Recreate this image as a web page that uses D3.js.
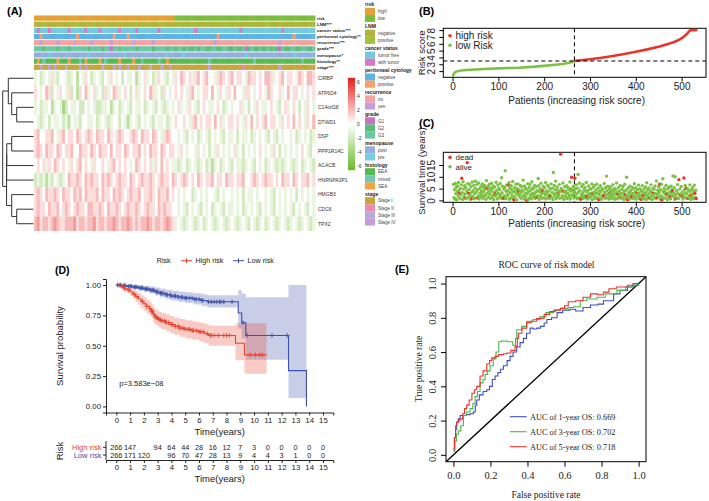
<!DOCTYPE html>
<html>
<head>
<meta charset="utf-8">
<script src="https://cdn.jsdelivr.net/npm/d3@7"></script>
<style>
  body { margin: 0; background: #fff; }
  svg { display: block; background: #fff; }
</style>
</head>
<body>
<svg width="709" height="501"></svg>
<script>
// ---------------- data ----------------
// (A) heatmap: genes, expression rows (a=-6 ... g=0 ... m=6), 100 column bins per row
const genes = ['CIRBP', 'ATP6D4', 'C14orf28', 'DTWD1', 'DSP', 'PPP1R14C', 'ACACB', 'HNRNPA3P1', 'HMGB3', 'CDC6', 'TPX2'];
const exprRows = [
  ['fgefgfhfeg','gfefgdgfhg','efgfegfhgf','gegffgdfgh','fgefhgfegf','hgihghfhig','higgfhihgh','ighhgfihhg','hgiihfghig','hhgfihgiih'],
  ['hgfgihegfh','gfhegdhgif','ghfgehfgih','fghgeghfgh','gihfgehgfg','hghgfhigfg','hhgigfhgfh','giggfhhgfg','hgfihgghfg','ighhgfghgh'],
  ['fgeffgdfgf','cegffgeegf','gfeeffgdfg','efgfegffge','fgfegfefgf','ghfgfhgfeg','hgffghgefg','fgghfgegfh','gffghgfegh','fghgegfhgf'],
  ['gfefgegffg','efdgffeggf','fgefgfefgg','egfdfgfegf','gfegffgefg','hgghgfhigh','ghhgighfgh','hghgfhgigh','ghighhgfhg','hgighgfhgi'],
  ['higghhigfh','ighhgihghi','hgihhgihgh','ihgghihgih','hgihgfhihg','gfgfegfgef','gfegfgfegf','fgegffgefg','fgfegfegfg','gfgefgfgef'],
  ['hihgihhgih','ghhiggihhg','ihgihhgigh','hgihghhigh','gihhgihghh','gfhgfggfhg','fgegfhgfgf','ghfgegfgfg','hgfgfhgegf','gfgfghgfeg'],
  ['ghghfhgihg','hgfhghighg','fhgghgfhig','hghgfgihgh','ghfhgighgf','fefgefgfef','gefdfgefgf','egffefgfeg','fgefgfefef','gfefgefgfe'],
  ['efefdfegfe','fgihhihgih','ihhgihihgh','ihhgihghih','hihghihhgi','hghihghgih','ghhighhgih','hghhigghih','ghihhghgih','hgihghhigh'],
  ['hihgihhihg','ihhgihigih','hhigihhgih','ihghihhigh','hihgihhigh','gfgfggefgf','gfggfegfgg','fgfgegffgf','ggfgfegfgf','gfgegfgfgf'],
  ['hihhgihhig','hihghihhgi','ihhihgihhi','hghihhihgh','ihhgihihhg','gfgfegfgfe','gfgefgfegf','fgfgefgfgf','egfgfegfgf','gfegfgfegf'],
  ['ijhiihijih','hiiijhiihi','ijhiihiiji','hiijihihii','jihiihijih','fgfefgfefg','efgfefgfef','gfefgfegfe','fgefgfefgf','efgfefgfef']
];
// annotation tracks, 100 column bins
const annLabels = ['risk', 'LNM***', 'cancer status***', 'peritoneal cytology**', 'recurrence***', 'grade***', 'menopause*', 'histology**', 'stage***'];
const annRisk   = ['hhhhhhhhhh','hhhhhhhhhh','hhhhhhhhhh','hhhhhhhhhh','hhhhhhhhhh','llllllllll','llllllllll','llllllllll','llllllllll','llllllllll'];
const annLNM    = ['nnnpnnnnnn','nnnnnpnnnn','npnnnnnnnn','nnnnnnpnnn','nnnnpnnnnn','nnnnnnnnnn','nnnnnnnnpn','nnnnnnnnnn','nnnpnnnnnn','nnnnnnnnnn'];
const annCancer = ['fwfffwffff','ffwfffffwf','fffwffffff','wfffffwfff','ffffwfffff','fffffffwff','ffffffffff','fffwffffff','ffffffffwf','ffffffffff'];
const annPerit  = ['nnpnnnnnnn','nnnnnpnnnn','nnnnnnnnpn','nnnpnnnnnn','nnnnnnnnnn','nnnnnnnnnn','nnnnnpnnnn','nnnnnnnnnn','nnnnnnnnnn','nnpnnnnnnn'];
const annRecur  = ['nnynnnnnyn','nnnnynnnnn','ynnnnnnynn','nnnnnynnnn','nnynnnnnnn','nnnnnnnnnn','nnnnynnnnn','nnnnnnnnnn','nnnnnnnynn','nnnnnnnnnn'];
const annGrade  = ['3332333323','3323333332','3333233133','2333332333','3323333233','2332322323','3223322332','2322312322','3223232132','2332233223'];
const annMeno   = ['oooooroooo','ooooooooor','oooooooooo','oorooooooo','oooooooroo','oooroooooo','oooooooooo','ooooooroooo','oooooooooo','oorooooooo'];
const annHist   = ['esemeeeese','eeseeemese','eeesemeeee','seeeeseeme','eeeemeesee','eeeeeeeeee','eemeeeeeee','eeeeeeeeme','eeeeeeeeee','eeeeemeeee'];
const annStage  = ['1131141311','1311113141','1111311131','3114111311','1311131141','1111111111','1131111111','1111211111','1111111311','1111111111'];
const legendTitles = ['risk', 'LNM', 'cancer status', 'peritoneal cytology', 'recurrence', 'grade', 'menopause', 'histology', 'stage'];
const legendItems = [
  ['high', 'low'], ['negative', 'positive'], ['tumor free', 'with tumor'], ['negative', 'positive'],
  ['no', 'yes'], ['G1', 'G2', 'G3'], ['post', 'pre'], ['EEA', 'mixed', 'SEA'],
  ['Stage I', 'Stage II', 'Stage III', 'Stage IV']
];
const heatTicks = [6, 4, 2, 0, -2, -4, -6];

// (B) risk score curve
const lowIdx  = [1, 3, 5, 8, 15, 30, 50, 70, 100, 145, 180, 218, 240, 255, 262, 266];
const lowVal  = [1.36, 1.62, 1.8, 1.93, 2.05, 2.16, 2.24, 2.31, 2.4, 2.5, 2.66, 2.9, 3.05, 3.23, 3.36, 3.46];
const highIdx = [267, 280, 300, 325, 350, 375, 400, 425, 450, 470, 485, 495, 502, 508, 512, 516, 519, 522, 526, 532];
const highVal = [3.5, 3.6, 3.73, 3.95, 4.21, 4.5, 4.84, 5.18, 5.57, 5.95, 6.3, 6.6, 6.9, 7.2, 7.5, 7.8, 7.98, 8.0, 8.0, 8.0];
const riskCut = 3.48, cutPatient = 266;

// (C) survival status [patient index, years]
const alivePts = [[2,6.8],[3,1.2],[4,4.5],[5,0.6],[6,7.2],[7,2.9],[8,5.6],[9,0.3],[10,3.8],[11,6.1],[12,1.9],[13,7.6],[14,4.2],[16,0.9],[17,5.1],[18,2.4],[19,6.6],[21,3.3],[22,0.5],[23,7.9],[24,4.8],[25,1.6],[26,6.2],[27,2.7],[29,5.4],[30,0.8],[31,3.9],[33,7.1],[34,1.3],[36,4.6],[37,6.9],[38,2.2],[39,0.4],[40,5.8],[41,3.4],[43,7.8],[44,1.7],[45,4.1],[46,6.4],[47,0.7],[48,2.9],[49,5.2],[50,8.1],[51,1.1],[52,3.6],[53,6.7],[54,4.4],[56,2.0],[57,7.4],[58,0.6],[59,5.0],[60,3.1],[61,1.5],[62,6.0],[63,4.0],[64,2.5],[65,7.0],[66,0.9],[67,5.5],[68,3.7],[69,1.8],[70,6.3],[71,4.7],[72,2.3],[73,0.5],[74,8.4],[76,3.2],[77,5.9],[78,1.4],[79,4.3],[80,6.8],[81,2.6],[82,0.8],[83,5.3],[84,3.8],[85,7.3],[86,1.2],[87,4.9],[88,2.1],[89,6.1],[90,0.4],[91,3.5],[92,5.7],[94,1.9],[95,7.7],[96,4.2],[97,2.8],[98,0.6],[99,6.5],[100,3.0],[101,5.1],[102,1.6],[103,4.5],[104,7.2],[105,2.4],[106,0.9],[107,9.6],[108,3.3],[109,6.0],[110,1.3],[112,4.8],[113,2.0],[114,5.6],[115,12.6],[116,0.7],[117,3.9],[118,6.6],[119,1.8],[120,4.1],[121,2.6],[123,7.5],[124,0.5],[125,5.2],[126,3.4],[127,1.1],[128,6.2],[129,4.6],[130,2.2],[131,8.0],[132,0.8],[133,3.7],[135,5.4],[136,1.5],[137,4.0],[138,6.9],[139,2.7],[140,0.3],[141,5.0],[142,3.1],[143,7.0],[145,1.9],[146,4.4],[147,2.5],[148,6.3],[149,0.9],[150,3.6],[151,5.8],[152,1.3],[153,4.2],[154,8.6],[155,2.1],[156,0.6],[157,6.1],[158,3.2],[159,5.1],[160,1.7],[161,4.7],[163,2.9],[164,7.1],[165,0.4],[166,3.8],[167,5.5],[168,1.2],[169,6.8],[170,2.3],[171,4.3],[172,0.7],[173,7.9],[174,3.0],[175,5.3],[176,1.6],[177,4.9],[178,2.6],[179,6.4],[180,0.8],[181,3.5],[182,5.9],[183,1.4],[185,4.1],[186,2.0],[187,9.3],[188,6.2],[189,0.5],[190,3.7],[191,5.0],[192,1.8],[193,7.3],[194,2.8],[195,4.6],[196,0.9],[198,6.0],[199,3.3],[200,1.1],[201,5.4],[202,2.4],[203,7.6],[204,0.6],[205,4.0],[206,2.9],[207,6.5],[208,1.5],[209,3.9],[210,5.7],[211,0.8],[212,2.2],[214,4.8],[215,7.0],[216,1.3],[217,3.4],[218,5.2],[219,0.4],[220,11.8],[221,2.7],[222,6.3],[223,1.9],[224,4.4],[225,8.2],[226,0.7],[227,3.1],[228,5.6],[229,1.6],[230,4.2],[232,2.5],[233,6.7],[234,0.9],[235,3.8],[237,5.1],[238,1.2],[239,4.5],[240,2.0],[241,7.4],[243,0.5],[244,3.6],[245,5.8],[246,1.7],[247,4.0],[248,2.8],[249,6.2],[250,0.8],[251,3.2],[252,5.5],[253,1.4],[254,4.7],[255,2.3],[256,7.8],[257,0.6],[258,3.9],[259,5.0],[261,1.9],[262,4.3],[263,2.6],[264,6.0],[265,1.0],[266,3.5],
  [268,4.9],[269,1.5],[270,6.6],[271,2.8],[272,0.7],[273,5.2],[274,11.0],[275,3.6],[276,1.2],[277,7.3],[278,4.1],[279,0.5],[281,2.4],[282,5.9],[283,1.8],[284,3.3],[285,6.8],[286,0.9],[287,4.5],[288,2.1],[289,5.5],[290,1.3],[291,3.8],[292,7.6],[294,0.6],[295,4.2],[296,2.6],[297,6.1],[298,1.0],[299,3.0],[300,5.0],[301,1.6],[302,4.7],[303,2.2],[304,7.0],[305,0.4],[307,5.6],[308,1.9],[309,3.5],[310,6.4],[311,0.8],[312,2.9],[313,4.4],[314,1.4],[315,6.9],[316,3.2],[317,0.7],[318,5.3],[320,2.5],[321,4.0],[322,1.1],[323,6.2],[324,3.7],[325,0.5],[326,5.0],[327,2.0],[328,4.6],[329,1.7],[331,7.2],[332,3.4],[333,0.9],[334,5.4],[335,2.3],[336,10.3],[337,4.1],[338,1.2],[339,6.0],[340,2.8],[341,0.6],[342,4.8],[343,1.8],[345,5.8],[346,3.0],[347,0.8],[348,4.3],[349,2.1],[350,6.7],[351,1.4],[352,3.6],[353,5.1],[354,0.5],[355,2.6],[356,4.5],[357,1.0],[358,7.4],[359,3.3],[360,0.7],[362,5.5],[363,1.9],[364,4.0],[365,2.4],[366,6.3],[368,3.1],[369,0.9],[370,4.7],[371,1.5],[372,5.9],[373,2.9],[374,0.4],[375,3.9],[376,6.9],[378,1.2],[379,4.4],[380,9.8],[381,2.2],[383,5.2],[384,1.6],[385,3.5],[386,0.6],[387,6.0],[388,2.7],[389,4.2],[390,1.1],[392,5.6],[393,3.0],[394,0.8],[395,4.9],[396,2.0],[397,7.1],[398,1.4],[399,3.7],[400,5.4],[401,0.5],[403,2.5],[404,4.6],[405,1.8],[406,6.5],[407,3.2],[408,0.9],[409,5.0],[410,2.3],[412,4.1],[413,1.3],[414,6.2],[415,3.6],[416,0.6],[418,4.8],[419,2.8],[420,1.0],[421,5.7],[422,3.4],[423,0.4],[424,7.5],[425,2.1],[426,4.4],[427,1.5],[428,5.3],[429,2.9],[431,0.7],[432,4.0],[433,6.6],[434,1.9],[435,3.3],[436,0.5],[437,5.1],[439,2.4],[440,4.7],[441,1.2],[442,6.1],[443,3.0],[444,0.8],[445,8.2],[447,2.6],[448,4.3],[449,1.6],[450,5.8],[451,3.5],[453,0.6],[454,4.5],[455,2.0],[456,6.9],[458,1.3],[459,9.2],[460,3.8],[461,0.9],[462,5.2],[463,2.7],[464,4.0],[465,1.1],[466,6.4],[467,3.1],[469,0.4],[470,4.9],[471,2.2],[472,5.6],[473,1.5],[474,3.6],[476,0.7],[477,6.0],[478,2.9],[479,4.6],[481,10.4],[482,1.8],[483,3.3],[484,5.4],[485,0.5],[486,10.0],[487,2.5],[489,4.2],[490,1.2],[491,6.7],[492,3.0],[493,0.8],[496,4.8],[498,1.7],[499,5.9],[501,3.5],[503,0.6],[504,2.3],[506,4.4],[507,1.4],[508,6.3],[509,3.2],[511,0.9],[512,2.7],[513,5.0],[515,4.1],[516,1.0],[517,2.0],[518,6.6],[519,3.7],[520,0.5],[522,4.7],[523,1.6],[524,5.5],[525,2.8],[526,0.7],[527,3.9],[528,6.5],[530,1.3],[531,4.3]];
const deadPts = [[15,3.0],[20,9.4],[28,1.0],[32,16.0],[35,3.0],[42,0.9],[55,1.0],[75,5.4],[93,2.7],[111,0.9],[122,6.5],[134,0.2],[144,4.0],[162,0.1],[184,1.5],[197,3.9],[213,1.8],[231,2.8],[236,19.6],[242,3.8],[260,9.8],[267,9.4],[280,0.6],[293,1.7],[306,3.1],[319,0.35],[330,2.1],[344,3.3],[361,2.5],[367,1.1],[377,2.3],[382,0.3],[391,1.6],[402,3.1],[411,0.5],[417,2.2],[430,0.9],[438,3.1],[446,1.2],[452,6.9],[457,0.2],[468,2.5],[475,1.6],[480,4.0],[488,0.9],[494,8.8],[497,2.2],[502,1.9],[505,9.5],[510,5.2],[514,0.9],[521,2.1],[529,3.0],[532,0.8]];

// (D) Kaplan-Meier
const highT  = [0, 0.25, 0.45, 0.6, 0.8, 1.0, 1.2, 1.4, 1.6, 1.8, 2.0, 2.2, 2.4, 2.55, 2.65, 2.75, 2.9, 3.1, 3.3, 3.6, 3.9, 4.2, 4.6, 5.0, 5.5, 6.0, 6.4, 6.7, 8.65, 9.3];
const highS  = [1, 0.99, 0.98, 0.97, 0.96, 0.945, 0.925, 0.905, 0.885, 0.865, 0.845, 0.825, 0.805, 0.785, 0.765, 0.745, 0.73, 0.715, 0.705, 0.69, 0.675, 0.66, 0.645, 0.635, 0.625, 0.615, 0.6, 0.585, 0.52, 0.425];
const highUp = [1, 1, 1, 0.995, 0.99, 0.98, 0.965, 0.95, 0.935, 0.915, 0.9, 0.88, 0.86, 0.845, 0.825, 0.81, 0.795, 0.78, 0.77, 0.76, 0.745, 0.73, 0.72, 0.71, 0.7, 0.69, 0.68, 0.665, 0.685, 0.685];
const highLo = [1, 0.975, 0.96, 0.945, 0.93, 0.91, 0.885, 0.86, 0.835, 0.81, 0.79, 0.765, 0.745, 0.725, 0.7, 0.68, 0.665, 0.65, 0.635, 0.62, 0.605, 0.59, 0.575, 0.56, 0.55, 0.535, 0.52, 0.5, 0.38, 0.27];
const highEnd = 10.9;
const lowT  = [0, 0.4, 0.8, 1.2, 1.6, 2.0, 2.4, 2.8, 3.2, 3.6, 4.0, 4.5, 5.0, 5.6, 6.2, 6.6, 8.85, 9.1, 9.4, 12.5, 13.8];
const lowS  = [1, 0.996, 0.99, 0.984, 0.976, 0.968, 0.958, 0.945, 0.932, 0.92, 0.91, 0.9, 0.893, 0.883, 0.873, 0.862, 0.77, 0.69, 0.585, 0.295, 0];
const lowUp = [1, 1, 1, 1, 0.998, 0.993, 0.988, 0.98, 0.97, 0.96, 0.953, 0.946, 0.94, 0.933, 0.925, 0.917, 0.96, 0.93, 0.9, 1.0, 0];
const lowLo = [1, 0.988, 0.978, 0.968, 0.956, 0.945, 0.932, 0.915, 0.9, 0.886, 0.873, 0.862, 0.853, 0.84, 0.828, 0.815, 0.64, 0.56, 0.385, 0.07, 0];
const lowEnd = 13.8;
const highCens = [0.4, 0.6, 0.9, 1.3, 1.5, 1.9, 2.2, 2.45, 2.55, 2.62, 2.7, 2.8, 2.9, 3.0, 3.1, 3.2, 3.3, 3.5, 3.6, 3.8, 4.0, 4.1, 4.3, 4.5, 4.6, 4.8, 5.0, 5.2, 5.3, 5.5, 5.6, 5.8, 6.0, 6.1, 6.3, 6.6, 6.8, 6.9, 7.1, 7.4, 7.8, 8.0, 8.2, 9.7, 10.1, 10.4, 10.6];
const lowCens  = [0.1, 0.2, 0.3, 0.5, 0.6, 0.7, 0.9, 1.0, 1.1, 1.3, 1.4, 1.5, 1.7, 1.8, 1.9, 2.1, 2.2, 2.3, 2.5, 2.6, 2.7, 2.9, 3.0, 3.2, 3.3, 3.4, 3.6, 3.7, 3.9, 4.0, 4.2, 4.3, 4.5, 4.7, 4.8, 5.0, 5.1, 5.3, 5.5, 5.7, 5.8, 6.0, 6.2, 6.3, 6.7, 6.9, 7.1, 7.3, 7.5, 7.6, 7.8, 8.4, 9.2, 9.5, 11.3, 12.4];
const tableHighT = [0, 1, 3, 4, 5, 6, 7, 8, 9, 10, 11, 12, 13, 14, 15];
const tableHighN = [266, 147, 94, 64, 44, 28, 16, 12, 7, 3, 0, 0, 0, 0, 0];
const tableLowT  = [0, 1, 2, 4, 5, 6, 7, 8, 9, 10, 11, 12, 13, 14, 15];
const tableLowN  = [266, 171, 120, 96, 70, 47, 28, 13, 9, 4, 4, 3, 1, 0, 0];
const pText = 'p=3.583e\u221208';

// (E) ROC
const roc1F = [0,0.005,0.012,0.018,0.026,0.036,0.05,0.07,0.09,0.108,0.118,0.126,0.14,0.16,0.18,0.195,0.21,0.225,0.24,0.255,0.27,0.29,0.306,0.322,0.342,0.36,0.378,0.395,0.414,0.43,0.45,0.47,0.49,0.505,0.53,0.56,0.59,0.63,0.66,0.7,0.74,0.78,0.81,0.84,0.865,0.9,0.94,0.97,1.0];
const roc1T = [0.03,0.1,0.15,0.19,0.21,0.23,0.23,0.235,0.24,0.25,0.29,0.32,0.35,0.37,0.38,0.4,0.44,0.46,0.48,0.5,0.52,0.55,0.575,0.6,0.63,0.655,0.68,0.71,0.74,0.735,0.74,0.75,0.77,0.79,0.8,0.83,0.845,0.85,0.84,0.86,0.875,0.88,0.9,0.9,0.94,0.96,0.98,0.99,1.0];
const roc3F = [0,0.008,0.016,0.027,0.04,0.054,0.07,0.09,0.105,0.117,0.13,0.144,0.16,0.171,0.185,0.198,0.215,0.23,0.245,0.26,0.29,0.32,0.335,0.342,0.37,0.396,0.43,0.468,0.5,0.54,0.58,0.62,0.65,0.685,0.72,0.775,0.82,0.883,0.93,0.97,1.0];
const roc3T = [0.02,0.08,0.12,0.14,0.17,0.23,0.25,0.27,0.3,0.34,0.37,0.42,0.44,0.47,0.49,0.52,0.56,0.6,0.66,0.665,0.66,0.64,0.68,0.73,0.75,0.78,0.79,0.807,0.83,0.845,0.855,0.86,0.865,0.9,0.91,0.92,0.94,0.96,0.98,0.99,1.0];
const roc5F = [0,0.006,0.012,0.018,0.026,0.036,0.05,0.06,0.072,0.085,0.1,0.113,0.126,0.144,0.16,0.18,0.195,0.207,0.225,0.243,0.27,0.29,0.31,0.333,0.345,0.351,0.37,0.396,0.42,0.45,0.49,0.52,0.55,0.577,0.6,0.62,0.66,0.7,0.74,0.78,0.81,0.84,0.88,0.94,0.97,1.0];
const roc5T = [0.035,0.1,0.17,0.19,0.2,0.21,0.24,0.27,0.29,0.32,0.36,0.38,0.4,0.46,0.49,0.53,0.55,0.566,0.575,0.585,0.59,0.595,0.61,0.633,0.68,0.71,0.74,0.772,0.78,0.797,0.82,0.836,0.845,0.855,0.87,0.894,0.9,0.92,0.94,0.935,0.95,0.97,0.98,0.99,1.0,1.0];
const rocLabels = ['AUC of 1-year OS: 0.669', 'AUC of 3-year OS: 0.702', 'AUC of 5-year OS: 0.718'];

// ---------------- drawing ----------------
const SANS = '"Liberation Sans", Arial, Helvetica, sans-serif';
const SERIF = '"Liberation Serif", "Times New Roman", serif';
const svg = d3.select('svg');

function label(g, x, y, s, size, o = {}) {
  const t = g.append('text').attr('x', x).attr('y', y).text(s)
    .attr('font-size', size).attr('fill', o.fill || '#000')
    .attr('font-family', o.family || SANS)
    .attr('text-anchor', o.anchor || 'start');
  if (o.bold) t.attr('font-weight', 'bold');
  if (o.rotate) t.attr('transform', `rotate(-90,${x},${y})`);
  return t;
}

// panel letters
label(svg, 7, 15, '(A)', 11, {bold: true});
label(svg, 419, 15, '(B)', 11, {bold: true});
label(svg, 419, 126.5, '(C)', 11, {bold: true});
label(svg, 55, 273.5, '(D)', 10.5, {bold: true});
label(svg, 395, 272.5, '(E)', 10.5, {bold: true});

// ===== (A) heatmap =====
const gA = svg.append('g');
const hmX = [34, 315];
const geneY = d3.scaleBand().domain(genes).range([71, 231]);
const heatColor = d3.scaleLinear().domain([-6, 0, 6]).range(['#78c03c', '#ffffff', '#e8322e']);
const code = 'abcdefghijklm';

exprRows.forEach((chunks, r) => {
  const vals = chunks.join('').split('').map(c => code.indexOf(c) - 6);
  const cx = d3.scaleLinear().domain([0, vals.length]).range(hmX);
  gA.append('g').selectAll('rect').data(vals).join('rect')
    .attr('x', (d, i) => cx(i)).attr('y', geneY(genes[r]))
    .attr('width', cx(1) - cx(0) + 0.4).attr('height', geneY.bandwidth())
    .attr('fill', d => heatColor(d));
});
genes.forEach(gn => label(gA, 318, geneY(gn) + geneY.bandwidth() / 2 + 1.8, gn, 5, {fill: '#333'}));

// annotation tracks
const annColors = [
  {h: '#e3a033', l: '#7dbb3c'},
  {n: '#b1b43a', p: '#a3c23c'},
  {f: '#74c8e2', w: '#d877c6'},
  {n: '#5db3e3', p: '#f6a266'},
  {n: '#f5a3a0', y: '#c99cd9'},
  {'1': '#c671c1', '2': '#5fbb7a', '3': '#6dc7a2'},
  {o: '#93aee0', r: '#72cfdd'},
  {e: '#57b953', m: '#6cc9b6', s: '#f5a243'},
  {'1': '#c4a63b', '2': '#ef89b0', '3': '#b8a8dc', '4': '#c99ad8'}
];
const annTracks = [annRisk, annLNM, annCancer, annPerit, annRecur, annGrade, annMeno, annHist, annStage];
annTracks.forEach((chunks, k) => {
  const vals = chunks.join('').split('');
  const cx = d3.scaleLinear().domain([0, vals.length]).range(hmX);
  const y = 15.5 + k * 6.15;
  gA.append('g').selectAll('rect').data(vals).join('rect')
    .attr('x', (d, i) => cx(i)).attr('y', y)
    .attr('width', cx(1) - cx(0) + 0.4).attr('height', 5.2)
    .attr('fill', d => annColors[k][d]);
  label(gA, 317, y + 4.2, annLabels[k], 4.4, {bold: true, fill: '#222'});
});

// dendrogram (heights in merge units)
const tree = {h: 10, c: [
  {h: 8.18, c: [0, {h: 7.08, c: [1, {h: 5.45, c: [2, 3]}]}]},
  {h: 8.75, c: [
    {h: 8.72, c: [{h: 8.68, c: [{h: 7.08, c: [4, 5]}, 6]}, 7]},
    {h: 7.08, c: [8, {h: 5.45, c: [9, 10]}]}
  ]}
]};
const dx = d3.scaleLinear().domain([0, 10]).range([33.5, 2.7]);
const dend = gA.append('g').attr('stroke', '#333').attr('stroke-width', 1).attr('fill', 'none');
function place(node) {
  if (typeof node === 'number') return {x: dx(0), y: geneY(genes[node]) + geneY.bandwidth() / 2};
  const kids = node.c.map(place);
  const x = dx(node.h);
  const y = (kids[0].y + kids[1].y) / 2;
  dend.append('line').attr('x1', x).attr('x2', x).attr('y1', kids[0].y).attr('y2', kids[1].y);
  kids.forEach(k => dend.append('line').attr('x1', x).attr('x2', k.x).attr('y1', k.y).attr('y2', k.y));
  return {x, y};
}
place(tree);

// heat color bar
const cbY = d3.scaleLinear().domain([6, -6]).range([82, 166]);
const grad = svg.append('defs').append('linearGradient').attr('id', 'hg')
  .attr('x1', 0).attr('x2', 0).attr('y1', 0).attr('y2', 1);
d3.range(-6.6, 6.61, 0.6).reverse().forEach((v, i, arr) =>
  grad.append('stop').attr('offset', i / (arr.length - 1)).attr('stop-color', heatColor(v)));
gA.append('rect').attr('x', 348).attr('y', cbY(6.6)).attr('width', 7)
  .attr('height', cbY(-6.6) - cbY(6.6)).attr('fill', 'url(#hg)');
heatTicks.forEach(v => label(gA, 357, cbY(v) + 1.8, v, 5, {fill: '#333'}));

// annotation legend
let ly = 4.5;
legendTitles.forEach((title, k) => {
  label(gA, 365, ly + 1.8, title, 5.1, {bold: true, fill: '#222'});
  const by = ly + 3.3;
  const keys = Object.keys(annColors[k]);
  legendItems[k].forEach((it, j) => {
    gA.append('rect').attr('x', 365).attr('y', by + j * 7.1).attr('width', 10).attr('height', 7.1)
      .attr('fill', annColors[k][keys[j]]);
    label(gA, 378, by + j * 7.1 + 5.2, it, 4.6, {fill: '#444'});
  });
  ly = by + legendItems[k].length * 7.1 + 4.4;
});

// ===== (B) risk score =====
const gB = svg.append('g');
const xB = d3.scaleLinear().domain([1 - 21.24, 532 + 21.24]).range([443.3, 706]);
const yB = d3.scaleLinear().domain([1.094, 8.266]).range([77.3, 28.3]);

function rAxes(g, x, y, yTicks, top, bottom, left, right, xTitleY, yTitle, yTitleMid) {
  g.append('rect').attr('x', left).attr('y', top).attr('width', right - left).attr('height', bottom - top)
    .attr('fill', 'none').attr('stroke', '#000').attr('stroke-width', 1);
  const ax = g.append('g').attr('transform', `translate(0,${bottom})`)
    .call(d3.axisBottom(x).tickValues([0, 100, 200, 300, 400, 500]).tickSizeOuter(0).tickSize(4).tickPadding(2));
  ax.select('.domain').remove();
  ax.selectAll('text').attr('font-size', 10).attr('font-family', SANS).attr('fill', '#222');
  const ay = g.append('g').attr('transform', `translate(${left},0)`)
    .call(d3.axisLeft(y).tickValues(yTicks).tickSizeOuter(0).tickSize(4));
  ay.select('.domain').remove();
  ay.selectAll('text').attr('x', 0).attr('y', -8.3).attr('dy', 0)
    .attr('transform', 'rotate(-90)').attr('text-anchor', 'middle')
    .attr('font-size', 10).attr('font-family', SANS).attr('fill', '#222');
  label(g, (left + right) / 2 + 2, xTitleY, 'Patients (increasing risk socre)', 10, {anchor: 'middle', fill: '#222'});
  label(g, 425, yTitleMid, yTitle, 9.6, {anchor: 'middle', rotate: true, fill: '#222'});
}
rAxes(gB, xB, yB, [2, 3, 4, 5, 6, 7, 8], 28.3, 77.3, 443.3, 706, 103.5, 'Risk score', 52.8);

const riskLine = d3.line().x(d => xB(d[0])).y(d => yB(d[1]));
gB.append('path').datum(lowIdx.map((d, i) => [d, lowVal[i]])).attr('d', riskLine)
  .attr('fill', 'none').attr('stroke', '#7cc242').attr('stroke-width', 2.6).attr('stroke-linecap', 'round');
gB.append('path').datum(highIdx.map((d, i) => [d, highVal[i]])).attr('d', riskLine)
  .attr('fill', 'none').attr('stroke', '#e8352b').attr('stroke-width', 2.6).attr('stroke-linecap', 'round');
gB.append('line').attr('x1', 443.3).attr('x2', 706).attr('y1', yB(riskCut)).attr('y2', yB(riskCut))
  .attr('stroke', '#000').attr('stroke-dasharray', '4,3');
gB.append('line').attr('x1', xB(cutPatient)).attr('x2', xB(cutPatient)).attr('y1', 28.3).attr('y2', 77.3)
  .attr('stroke', '#000').attr('stroke-dasharray', '4,3');
gB.append('circle').attr('cx', 450).attr('cy', 35.7).attr('r', 1.8).attr('fill', '#e8352b');
label(gB, 455.5, 39.2, 'high risk', 10, {fill: '#222'});
gB.append('circle').attr('cx', 450).attr('cy', 45.3).attr('r', 1.8).attr('fill', '#7cc242');
label(gB, 455.5, 48.8, 'low Risk', 10, {fill: '#222'});

// ===== (C) survival status =====
const gC = svg.append('g');
const xC = xB.copy().range([443.3, 706]);
const yC = d3.scaleLinear().domain([-0.784, 20.38]).range([202.3, 152.3]);
rAxes(gC, xC, yC, [0, 5, 10, 15], 152.3, 202.3, 443.3, 706, 227, 'Survival time (years)', 171);
gC.append('line').attr('x1', xC(cutPatient)).attr('x2', xC(cutPatient)).attr('y1', 152.3).attr('y2', 202.3)
  .attr('stroke', '#000').attr('stroke-dasharray', '4,3');
const allPts = alivePts.map(d => [d[0], d[1], 0]).concat(deadPts.map(d => [d[0], d[1], 1]))
  .sort((a, b) => a[0] - b[0]);
gC.append('g').selectAll('circle').data(allPts).join('circle')
  .attr('cx', d => xC(d[0])).attr('cy', d => yC(d[1])).attr('r', 1.7)
  .attr('fill', d => d[2] ? '#e8352b' : '#7cc242');
gC.append('circle').attr('cx', 450).attr('cy', 157.4).attr('r', 1.8).attr('fill', '#e8352b');
label(gC, 455.5, 160.2, 'dead', 8, {fill: '#222'});
gC.append('circle').attr('cx', 450).attr('cy', 166.8).attr('r', 1.8).attr('fill', '#7cc242');
label(gC, 455.5, 169.7, 'alive', 8, {fill: '#222'});

// ===== (D) Kaplan-Meier =====
const gD = svg.append('g');
const RED = '#e8432f', BLUE = '#3e4fae';
const xD = d3.scaleLinear().domain([-0.75, 15.75]).range([106, 333.3]);
const yD = d3.scaleLinear().domain([-0.05, 1.05]).range([412.5, 279]);

function styleAxis(sel, size) {
  sel.selectAll('text').attr('font-size', size).attr('font-family', SANS).attr('fill', '#222');
  sel.selectAll('line,path').attr('stroke', '#222');
}
const band = d3.area().curve(d3.curveStepAfter).x(d => xD(d[0])).y0(d => yD(d[1])).y1(d => yD(d[2]));
const step = d3.line().curve(d3.curveStepAfter).x(d => xD(d[0])).y(d => yD(d[1]));
const groups = [
  {T: lowT, S: lowS, U: lowUp, L: lowLo, end: lowEnd, cens: lowCens, col: BLUE},
  {T: highT, S: highS, U: highUp, L: highLo, end: highEnd, cens: highCens, col: RED}
];
groups.forEach(g => {
  const b = g.T.map((t, i) => [t, g.L[i], g.U[i]]);
  b.push([g.end, g.L[g.L.length - 1], g.U[g.U.length - 1]]);
  gD.append('path').datum(b).attr('d', band).attr('fill', g.col).attr('fill-opacity', 0.28);
});
groups.forEach(g => {
  const p = g.T.map((t, i) => [t, g.S[i]]);
  p.push([g.end, g.S[g.S.length - 1]]);
  gD.append('path').datum(p).attr('d', step).attr('fill', 'none').attr('stroke', g.col).attr('stroke-width', 1.1);
  const survAt = t => g.S[d3.bisectRight(g.T, t) - 1];
  gD.append('g').selectAll('path').data(g.cens).join('path')
    .attr('d', t => `M${xD(t)},${yD(survAt(t)) - 2.3}v4.6M${xD(t) - 2.2},${yD(survAt(t))}h4.4`)
    .attr('stroke', g.col).attr('stroke-width', 0.9);
});
const axD = gD.append('g').attr('transform', 'translate(0,412.5)')
  .call(d3.axisBottom(xD).tickValues(d3.range(16)).tickSizeOuter(0).tickSize(3).tickPadding(1.5));
styleAxis(axD, 7.8);
const ayD = gD.append('g').attr('transform', 'translate(106,0)')
  .call(d3.axisLeft(yD).tickValues([0, 0.25, 0.5, 0.75, 1]).tickFormat(d3.format('.2f')).tickSizeOuter(0).tickSize(3).tickPadding(2));
styleAxis(ayD, 7.8);
label(gD, 219.7, 435, 'Time(years)', 9.5, {anchor: 'middle', fill: '#222'});
label(gD, 63, 346, 'Survival probability', 9.5, {anchor: 'middle', rotate: true, fill: '#222'});
label(gD, 119.3, 386, pText, 7.5, {fill: '#222'});

// legend
label(gD, 156.7, 263.2, 'Risk', 7.2, {fill: '#222'});
[[181, RED, 'High risk'], [233, BLUE, 'Low risk']].forEach(([x0, col, txt]) => {
  gD.append('path').attr('d', `M${x0},260.7h11M${x0 + 5.5},258.4v4.6`).attr('stroke', col).attr('stroke-width', 1);
  label(gD, x0 + 14.5, 263.2, txt, 7.2, {fill: '#222'});
});

// risk table
const rowHigh = 447.3, rowLow = 455;
const axT = gD.append('g').attr('transform', 'translate(0,460)')
  .call(d3.axisBottom(xD).tickValues(d3.range(16)).tickSizeOuter(0).tickSize(3).tickPadding(1.5));
styleAxis(axT, 7.8);
gD.append('path').attr('d', `M106,441V460M103,${rowHigh}H106M103,${rowLow}H106`).attr('stroke', '#222');
tableHighT.forEach((t, i) => label(gD, xD(t), rowHigh + 2.6, tableHighN[i], 7.3, {anchor: 'middle', fill: '#222'}));
tableLowT.forEach((t, i) => label(gD, xD(t), rowLow + 2.6, tableLowN[i], 7.3, {anchor: 'middle', fill: '#222'}));
label(gD, 101.5, rowHigh + 2.6, 'High risk', 7.6, {anchor: 'end', fill: RED});
label(gD, 101.5, rowLow + 2.6, 'Low risk', 7.6, {anchor: 'end', fill: BLUE});
label(gD, 63, 451, 'Risk', 9.5, {anchor: 'middle', rotate: true, fill: '#222'});
label(gD, 219.7, 481.5, 'Time(years)', 9.5, {anchor: 'middle', fill: '#222'});

// ===== (E) ROC =====
const gE = svg.append('g');
const xE = d3.scaleLinear().domain([-0.04, 1.04]).range([446, 646]);
const yE = d3.scaleLinear().domain([-0.04, 1.04]).range([461.7, 276.7]);
gE.append('rect').attr('x', 446).attr('y', 276.7).attr('width', 200).attr('height', 185)
  .attr('fill', 'none').attr('stroke', '#000').attr('stroke-width', 1);
const ticksE = [0, 0.2, 0.4, 0.6, 0.8, 1.0];
const axE = gE.append('g').attr('transform', 'translate(0,461.7)')
  .call(d3.axisBottom(xE).tickValues(ticksE).tickFormat(d3.format('.1f')).tickSizeOuter(0).tickSize(5).tickPadding(5));
axE.select('.domain').remove();
axE.selectAll('text').attr('font-size', 10.5).attr('font-family', SERIF).attr('fill', '#222');
const ayE = gE.append('g').attr('transform', 'translate(446,0)')
  .call(d3.axisLeft(yE).tickValues(ticksE).tickFormat(d3.format('.1f')).tickSizeOuter(0).tickSize(5));
ayE.select('.domain').remove();
ayE.selectAll('text').attr('x', 0).attr('y', -10.5).attr('dy', 0)
  .attr('transform', 'rotate(-90)').attr('text-anchor', 'middle')
  .attr('font-size', 10.5).attr('font-family', SERIF).attr('fill', '#222');
label(gE, 546, 498, 'False positive rate', 9.5, {anchor: 'middle', family: SERIF, fill: '#222'});
label(gE, 421.5, 369, 'True positive rate', 9.5, {anchor: 'middle', family: SERIF, rotate: true, fill: '#222'});
label(gE, 546.5, 268, 'ROC curve of risk model', 9.5, {anchor: 'middle', family: SERIF, fill: '#222'});
gE.append('line').attr('x1', xE(-0.04)).attr('y1', yE(-0.04)).attr('x2', xE(1.04)).attr('y2', yE(1.04))
  .attr('stroke', '#000').attr('stroke-width', 1.3);
const rocLine = d3.line().curve(d3.curveStepAfter).x(d => xE(d[0])).y(d => yE(d[1]));
const rocSeries = [[roc1F, roc1T, '#3f4fc0'], [roc3F, roc3T, '#4cb648'], [roc5F, roc5T, '#e8322c']];
rocSeries.forEach(([F, T, col]) => {
  gE.append('path').datum(F.map((f, i) => [f, T[i]])).attr('d', rocLine)
    .attr('fill', 'none').attr('stroke', col).attr('stroke-width', 1.1);
});
rocSeries.forEach(([, , col], i) => {
  const y = 416.7 + i * 15;
  gE.append('line').attr('x1', 510).attr('x2', 526.7).attr('y1', y).attr('y2', y).attr('stroke', col).attr('stroke-width', 1.1);
  label(gE, 530, y + 3, rocLabels[i], 8.3, {family: SERIF, fill: '#222'});
});
</script>
</body>
</html>
